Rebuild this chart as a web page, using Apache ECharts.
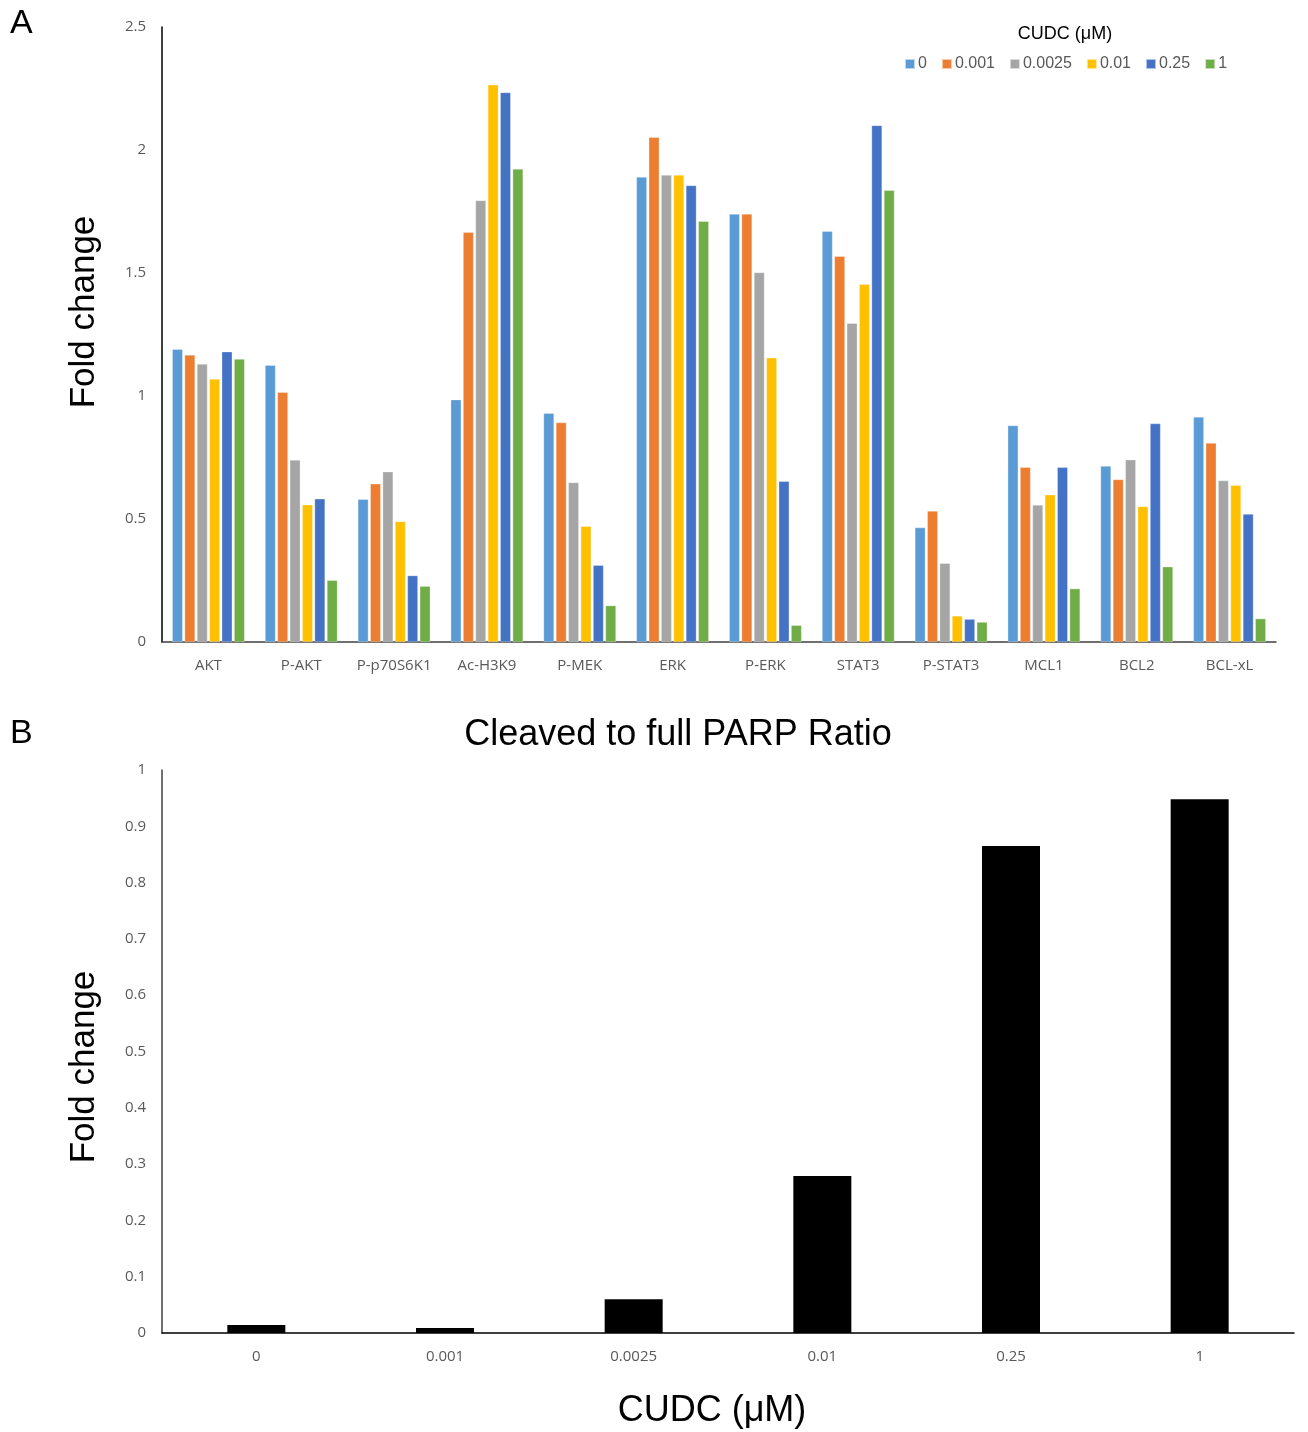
<!DOCTYPE html>
<html><head><meta charset="utf-8">
<script src="https://cdn.jsdelivr.net/npm/echarts@6/dist/echarts.min.js"></script>
<style>html,body{margin:0;padding:0;background:#fff}#c{width:1308px;height:1432px}</style>
</head><body><div id="c"></div>
<script>
const proteins = ['AKT','P-AKT','P-p70S6K1','Ac-H3K9','P-MEK','ERK','P-ERK','STAT3','P-STAT3','MCL1','BCL2','BCL-xL'];
const doses = ['0','0.001','0.0025','0.01','0.25','1'];
const s0     = [1.19, 1.125, 0.58, 0.985, 0.93, 1.89, 1.74, 1.67, 0.465, 0.88, 0.715, 0.915];
const s0001  = [1.167, 1.015, 0.643, 1.666, 0.892, 2.052, 1.74, 1.568, 0.533, 0.71, 0.661, 0.809];
const s00025 = [1.13, 0.74, 0.692, 1.795, 0.648, 1.898, 1.502, 1.296, 0.32, 0.557, 0.741, 0.656];
const s001   = [1.069, 0.558, 0.49, 2.265, 0.471, 1.898, 1.155, 1.454, 0.106, 0.599, 0.551, 0.637];
const s025   = [1.18, 0.582, 0.27, 2.234, 0.312, 1.856, 0.653, 2.10, 0.093, 0.71, 0.888, 0.52];
const s1     = [1.15, 0.251, 0.227, 1.923, 0.148, 1.71, 0.068, 1.836, 0.081, 0.217, 0.306, 0.095];
const seriesA = [s0, s0001, s00025, s001, s025, s1];
const colors = ['#5B9BD5','#ED7D31','#A5A5A5','#FFC000','#4472C4','#70AD47'];
const parpRatio = [0.014, 0.009, 0.06, 0.279, 0.865, 0.948];

const chart = echarts.init(document.getElementById('c'));
const tickFont = {fontFamily:'Open Sans, Liberation Sans, sans-serif', fontSize:15, color:'#595959'};
const bigFont = 'Liberation Sans, Arial, sans-serif';

const option = {
  animation:false,
  backgroundColor:'#fff',
  color: colors,
  legend: {
    data: doses, top: 51, left: 899, itemWidth: 10, itemHeight: 10, itemGap: 14,
    icon: 'rect',
    textStyle: {fontFamily:'Liberation Sans, Arial, sans-serif', fontSize:16, color:'#595959', padding:[0,0,0,-2]}
  },
  graphic: [
    {type:'text', left:10, top:7, style:{text:'A', font:'34px '+bigFont, fill:'#000'}},
    {type:'text', left:10, top:717, style:{text:'B', font:'34px '+bigFont, fill:'#000'}},
    {type:'text', x:1065, y:34, style:{text:'CUDC (μM)', font:'18px '+bigFont, fill:'#000', textAlign:'center', textVerticalAlign:'middle'}},
    {type:'text', x:678, y:735, style:{text:'Cleaved to full PARP Ratio', font:'36px '+bigFont, fill:'#000', textAlign:'center', textVerticalAlign:'middle'}},
    {type:'text', x:84, y:312, rotation:Math.PI/2, style:{text:'Fold change', font:'35px '+bigFont, fill:'#000', textAlign:'center', textVerticalAlign:'middle'}},
    {type:'text', x:84, y:1067, rotation:Math.PI/2, style:{text:'Fold change', font:'35px '+bigFont, fill:'#000', textAlign:'center', textVerticalAlign:'middle'}},
    {type:'text', x:712, y:1411, style:{text:'CUDC (μM)', font:'36px '+bigFont, fill:'#000', textAlign:'center', textVerticalAlign:'middle'}}
  ],
  grid: [
    {left:162, top:27, width:1114, height:615},
    {left:162, top:770, width:1132, height:563}
  ],
  xAxis: [
    {type:'category', gridIndex:0, data:proteins, axisTick:{show:false},
     axisLine:{lineStyle:{color:'#404040', width:1.5}},
     axisLabel:Object.assign({margin:16, interval:0}, tickFont)},
    {type:'category', gridIndex:1, data:doses, axisTick:{show:false},
     axisLine:{lineStyle:{color:'#000', width:1.5}},
     axisLabel:Object.assign({margin:16, interval:0}, tickFont)}
  ],
  yAxis: [
    {type:'value', gridIndex:0, min:0, max:2.5, interval:0.5, splitLine:{show:false},
     axisLine:{show:true, lineStyle:{color:'#000', width:1.5}}, axisTick:{show:false},
     axisLabel:Object.assign({margin:16}, tickFont)},
    {type:'value', gridIndex:1, min:0, max:1, interval:0.1, splitLine:{show:false},
     axisLine:{show:true, lineStyle:{color:'#404040', width:1.5}}, axisTick:{show:false},
     axisLabel:Object.assign({margin:16}, tickFont)}
  ],
  series: seriesA.map((d,i)=>({
    name: doses[i], type:'bar', xAxisIndex:0, yAxisIndex:0, data:d,
    barGap:'18%', barCategoryGap:'22%',
    itemStyle:{color:colors[i], borderColor:'rgba(255,255,255,0.6)', borderWidth:0.5}
  })).concat([{
    name:'PARP', type:'bar', xAxisIndex:1, yAxisIndex:1, data:parpRatio, barWidth:58,
    itemStyle:{color:'#000'}
  }])
};
chart.setOption(option);
</script></body></html>
